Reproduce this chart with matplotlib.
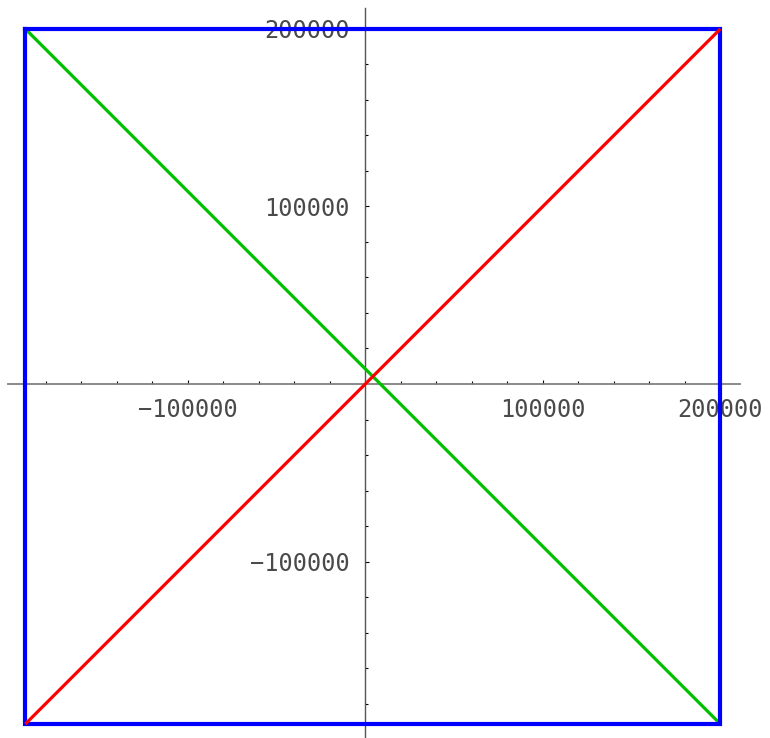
import matplotlib
matplotlib.use("Agg")
import matplotlib.pyplot as plt
import numpy as np

# corners of the box and the two diagonals
lo, hi = -191500, 200000
box_x = [lo, hi, hi, lo, lo]
box_y = [hi, hi, lo, lo, hi]
red_x = [lo, hi]
red_y = [lo, hi]
green_x = [lo, hi]
green_y = [hi, lo]

major = [-100000, 100000, 200000]
labels = ["\u2212100000", "100000", "200000"]

fig = plt.figure(figsize=(7.7, 7.38), dpi=100)
ax = fig.add_axes([0, 0, 1, 1])

ax.plot(green_x, green_y, color="#00c000", lw=2.3, solid_capstyle="butt", zorder=3)
ax.plot(box_x, box_y, color="#0000ff", lw=3.0, solid_joinstyle="miter", zorder=4)
ax.plot(red_x, red_y, color="#ff0000", lw=2.3, solid_capstyle="butt", zorder=5)

ax.set_xlim(-205800, 228000)
ax.set_ylim(-199400, 216300)

for s in ["top", "right"]:
    ax.spines[s].set_visible(False)
ax.spines["left"].set_position(("data", 0))
ax.spines["bottom"].set_position(("data", 0))
ax.spines["bottom"].set_bounds(-201300, 211100)
ax.spines["left"].set_bounds(-199400, 211800)
ax.spines["bottom"].set_color("#808080")
ax.spines["left"].set_color("#555555")
ax.spines["bottom"].set_linewidth(1.3)
ax.spines["left"].set_linewidth(1.0)

minor = [v for v in np.arange(-200000, 220000, 20000) if v % 100000 != 0]
ax.set_xticks(major)
ax.set_xticklabels(labels)
ax.set_yticks(major)
ax.set_yticklabels(labels)
ax.set_xticks(minor, minor=True)
ax.set_yticks(minor, minor=True)

ax.tick_params(which="both", direction="in", color="black", width=0.8)
ax.tick_params(which="major", length=3.0)
ax.tick_params(which="minor", length=1.9)
ax.tick_params(axis="x", which="major", pad=10)
ax.tick_params(axis="y", which="major", pad=11)
for t in ax.get_xticklabels() + ax.get_yticklabels():
    t.set_fontfamily("DejaVu Sans Mono")
    t.set_fontsize(17)
    t.set_color("#4a4a4a")

fig.savefig("out.png", dpi=100)
